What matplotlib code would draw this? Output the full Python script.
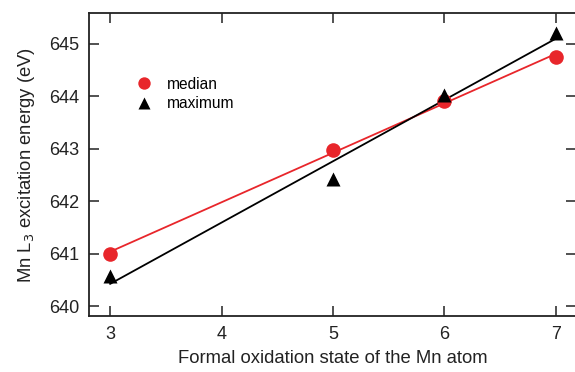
import numpy as np
import matplotlib
matplotlib.use("Agg")
from matplotlib import pyplot as plt

plt.rcParams['font.family'] = ['Liberation Sans', 'DejaVu Sans']

# oxidation states and L3 energies
states = [3, 5, 6, 7]
median = [641.0, 642.97, 643.92, 644.75]
maximum = [640.57, 642.42, 644.03, 645.2]
xticks = [3, 4, 5, 6, 7]
yticks = [640, 641, 642, 643, 644, 645]

red = '#e8262b'
ink = '#222222'

fig = plt.figure(figsize=(5.75, 3.72), dpi=100)
ax = fig.add_axes([89 / 575, 1 - 316 / 372, 487 / 575, 303 / 372])

# linear fits through each series
xf = np.array([min(states), max(states)])
pm = np.polyfit(states, median, 1)
px = np.polyfit(states, maximum, 1)
ax.plot(xf, np.polyval(pm, xf), color=red, lw=1.3, zorder=2)
ax.plot(xf, np.polyval(px, xf), color='black', lw=1.3, zorder=2)

ax.plot(states, median, 'o', color=red, ms=10.5, mec='none', label='median', zorder=3)
ax.plot(states, maximum, '^', color='black', ms=10.5, mec='none', label='maximum', zorder=4)

ax.set_xlim(2.81, 7.18)
ax.set_ylim(639.81, 645.59)
ax.set_xticks(xticks)
ax.set_yticks(yticks)
ax.tick_params(direction='in', length=7, width=1.1, top=True, right=True,
               labelsize=13, pad=7, colors=ink)
for s in ax.spines.values():
    s.set_linewidth(1.3)
    s.set_color(ink)

ax.set_xlabel('Formal oxidation state of the Mn atom', fontsize=13.3, labelpad=5, color=ink)
ax.set_ylabel('Mn L$_3$ excitation energy (eV)', fontsize=13.3, labelpad=9, color=ink)

ax.legend(loc='upper left', bbox_to_anchor=(0.081, 0.815), frameon=False, fontsize=11.2,
          handletextpad=1.0, labelspacing=0.3, handlelength=1.0, borderpad=0,
          markerscale=0.85)

fig.savefig('out.png', dpi=100)
